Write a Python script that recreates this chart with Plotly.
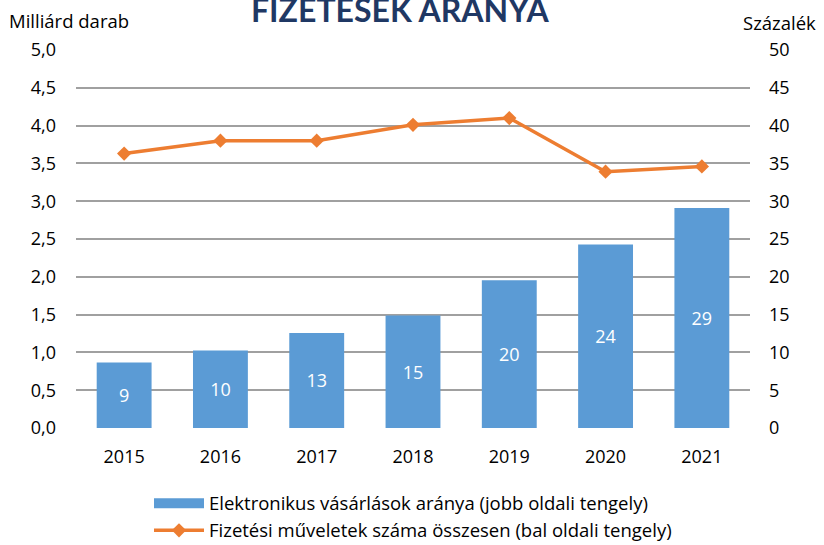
import plotly.graph_objects as go

years = ["2015", "2016", "2017", "2018", "2019", "2020", "2021"]
electronic_share = [8.65, 10.24, 12.58, 14.87, 19.55, 24.28, 29.09]
share_labels = ["9", "10", "13", "15", "20", "24", "29"]
payments_total = [3.63, 3.80, 3.80, 4.01, 4.10, 3.39, 3.46]

left_ticks = [0, 0.5, 1, 1.5, 2, 2.5, 3, 3.5, 4, 4.5, 5]
left_ticklabels = ["0,0", "0,5", "1,0", "1,5", "2,0", "2,5", "3,0", "3,5", "4,0", "4,5", "5,0"]
right_ticks = [0, 5, 10, 15, 20, 25, 30, 35, 40, 45, 50]

bar_name = "Elektronikus vásárlások aránya (jobb oldali tengely)"
line_name = "Fizetési műveletek száma összesen (bal oldali tengely)"

BLUE = "#5B9BD5"
ORANGE = "#ED7D31"
FONT = "Open Sans"

fig = go.Figure()

fig.add_trace(go.Bar(
    x=years, y=electronic_share, yaxis="y2",
    marker=dict(color=BLUE, line=dict(width=0)),
    text=share_labels, textposition="inside", insidetextanchor="middle",
    textfont=dict(color="white", size=18, family=FONT),
    showlegend=False, name=bar_name, hoverinfo="x+y",
))

# legend entry for the bars (wide rectangle like the original)
fig.add_trace(go.Scatter(
    x=[None], y=[None], mode="lines", name=bar_name, legendgroup="a",
    line=dict(color=BLUE, width=12), yaxis="y2",
))

fig.add_trace(go.Scatter(
    x=years, y=payments_total, mode="lines+markers", name=line_name,
    legendgroup="b",
    line=dict(color=ORANGE, width=3.5),
    marker=dict(symbol="diamond", size=11, color=ORANGE),
))

fig.update_layout(
    width=824, height=545,
    margin=dict(l=76, r=74, t=50, b=117, autoexpand=False),
    paper_bgcolor="white", plot_bgcolor="white",
    font=dict(family=FONT, size=18, color="#000000"),
    bargap=0.43,
    showlegend=True,
    legend=dict(
        orientation="v", x=0.5, xanchor="center", y=-0.15, yanchor="top",
        itemwidth=50, font=dict(size=18.5, family=FONT, color="#000000"),
        tracegroupgap=4, traceorder="normal",
    ),
    xaxis=dict(
        type="category", showgrid=False, showline=False, zeroline=False,
        ticks="", ticklabelstandoff=16, tickfont=dict(size=18),
    ),
    yaxis=dict(
        range=[0, 5], tickvals=left_ticks, ticktext=left_ticklabels,
        showgrid=True, gridcolor="#A0A0A0", gridwidth=2,
        zeroline=False, showline=False, ticks="", ticklabelstandoff=19,
        tickfont=dict(size=18),
    ),
    yaxis2=dict(
        range=[0, 50], tickvals=right_ticks, overlaying="y", side="right",
        showgrid=False, zeroline=False, showline=False, ticks="",
        ticklabelstandoff=18, tickfont=dict(size=18),
    ),
    annotations=[
        dict(text="<b>FIZETÉSEK ARÁNYA</b>", xref="paper", yref="paper",
             x=0.482, y=1, yshift=41, xanchor="center", yanchor="middle",
             showarrow=False, font=dict(size=32, color="#1F3864", family="Lato")),
        dict(text="Milliárd darab", xref="paper", yref="paper", x=0, xshift=-69,
             y=1, yshift=30, xanchor="left", yanchor="middle", showarrow=False,
             font=dict(size=18.5, family=FONT)),
        dict(text="Százalék", xref="paper", yref="paper", x=1, xshift=68,
             y=1, yshift=28, xanchor="right", yanchor="middle", showarrow=False,
             font=dict(size=18.5, family=FONT)),
    ],
)

fig.write_html(
    "out.html",
    config={"displayModeBar": False},
    post_script="document.body.style.margin='0';document.body.style.overflow='hidden';",
)
